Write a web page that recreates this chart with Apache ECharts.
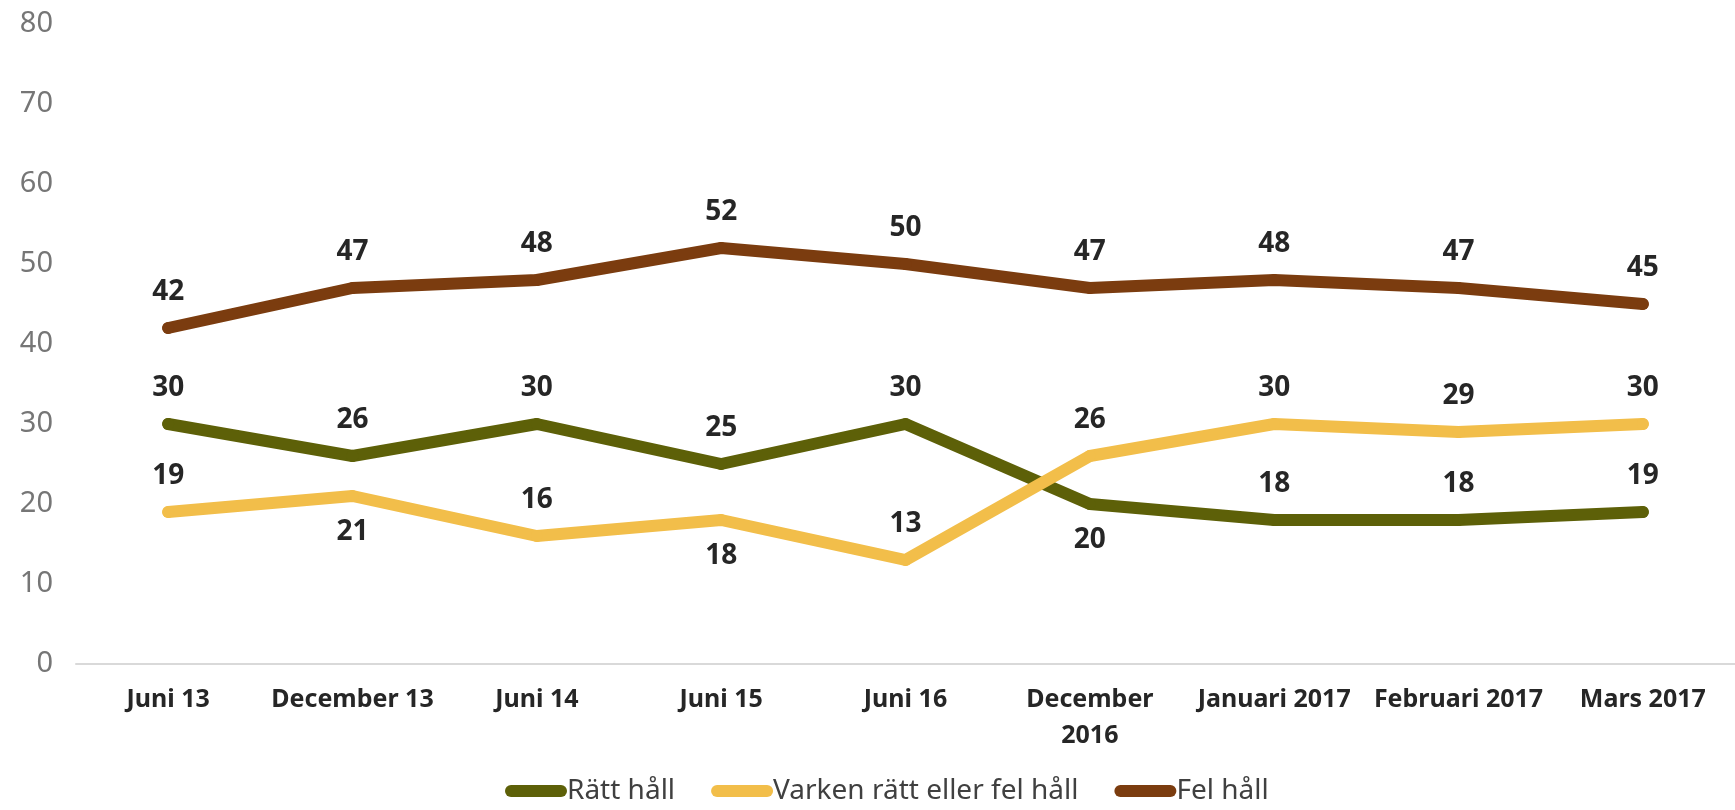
<!DOCTYPE html>
<html>
<head>
<meta charset="utf-8">
<script src="https://cdn.jsdelivr.net/npm/echarts@6/dist/echarts.min.js"></script>
<style>
  html, body { margin: 0; padding: 0; background: #fff; }
  #main { width: 1735px; height: 810px; }
</style>
</head>
<body>
<div id="main"></div>
<script>
// data
var categories = ["Juni 13", "December 13", "Juni 14", "Juni 15", "Juni 16",
  "December\n2016", "Januari 2017", "Februari 2017", "Mars 2017"];
var rattHall = [30, 26, 30, 25, 30, 20, 18, 18, 19];
var varkenHall = [19, 21, 16, 18, 13, 26, 30, 29, 30];
var felHall = [42, 47, 48, 52, 50, 47, 48, 47, 45];
var yTicks = [0, 10, 20, 30, 40, 50, 60, 70, 80];

// which labels sit under the line
var rattBelow = [5];
var varkenBelow = [1, 3];

var font = "'Noto Sans', 'Open Sans', sans-serif";

function withLabels(values, below) {
  return values.map(function (v, i) {
    if (below.indexOf(i) >= 0) {
      return { value: v, label: { position: "bottom" } };
    }
    return v;
  });
}

function makeSeries(name, color, values, below) {
  return {
    name: name,
    type: "line",
    showSymbol: true,
    symbol: "circle",
    symbolSize: 12,
    lineStyle: { color: color, width: 12, cap: "round", join: "round" },
    itemStyle: { color: color, borderWidth: 0 },
    label: {
      show: true,
      position: "top",
      distance: 16,
      color: "#262626",
      fontFamily: font,
      fontWeight: "bold",
      fontSize: 28
    },
    emphasis: { disabled: true },
    data: withLabels(values, below)
  };
}

var legendIcon = "path://M6,0 H56 A6,6 0 0 1 56,12 H6 A6,6 0 0 1 6,0 Z";

var myChart = echarts.init(document.getElementById("main"));
myChart.setOption({
  animation: false,
  grid: { left: 76, right: 0, top: 24, bottom: 146, containLabel: false },
  legend: {
    bottom: 0,
    left: 500,
    itemWidth: 62,
    itemHeight: 12,
    itemGap: 36,
    icon: legendIcon,
    textStyle: {
      color: "#404040",
      fontFamily: font,
      fontSize: 28,
      padding: [0, 0, 0, -5]
    },
    data: ["Rätt håll", "Varken rätt eller fel håll", "Fel håll"]
  },
  xAxis: {
    type: "category",
    data: categories,
    boundaryGap: true,
    axisLine: { lineStyle: { color: "#d9d9d9", width: 2 } },
    axisTick: { show: false },
    axisLabel: {
      interval: 0,
      margin: 18,
      color: "#262626",
      fontFamily: font,
      fontWeight: "bold",
      fontSize: 25,
      lineHeight: 36
    }
  },
  yAxis: {
    type: "value",
    min: yTicks[0],
    max: yTicks[yTicks.length - 1],
    interval: 10,
    splitLine: { show: false },
    axisLine: { show: false },
    axisTick: { show: false },
    axisLabel: {
      margin: 23,
      color: "#767676",
      fontFamily: font,
      fontSize: 29
    }
  },
  series: [
    makeSeries("Rätt håll", "#5d6008", rattHall, rattBelow),
    makeSeries("Varken rätt eller fel håll", "#f2be4a", varkenHall, varkenBelow),
    makeSeries("Fel håll", "#7b3c0f", felHall, [])
  ]
});
</script>
</body>
</html>
